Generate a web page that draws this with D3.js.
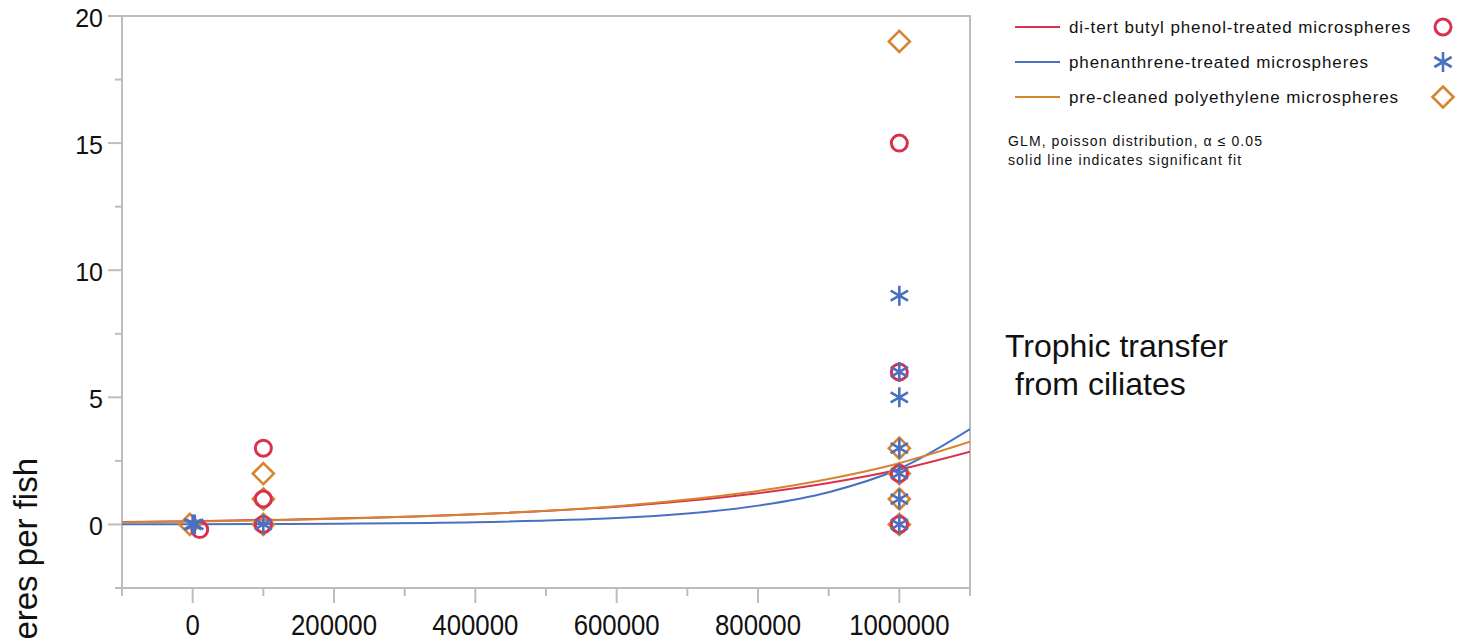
<!DOCTYPE html>
<html>
<head>
<meta charset="utf-8">
<script src="https://cdn.jsdelivr.net/npm/d3@7"></script>
<style>
  body { margin: 0; background: #fff; }
  text { font-family: "Liberation Sans", Arial, sans-serif; fill: #111; }
</style>
</head>
<body>
<svg id="chart"></svg>
<script>
let width = 1468, height = 640;

// series labels and colours
let seriesNames = ["di-tert butyl phenol-treated microspheres", "phenanthrene-treated microspheres", "pre-cleaned polyethylene microspheres"];
let seriesColors = ["#d8324f", "#4a70c1", "#d6842f"];

let redX = [10000, 100000, 100000, 100000, 1000000, 1000000, 1000000, 1000000];
let redY = [-0.2, 0, 1, 3, 0, 2, 6, 15];
let blueX = [0, 3000, 100000, 1000000, 1000000, 1000000, 1000000, 1000000, 1000000, 1000000];
let blueY = [0, 0, 0, 0, 1, 2, 3, 5, 6, 9];
let orangeX = [-4000, 100000, 100000, 100000, 1000000, 1000000, 1000000, 1000000, 1000000];
let orangeY = [0, 0, 1, 2, 0, 1, 2, 3, 19];

// fitted GLM curves, read at these x values
let fitX = [-100000, 0, 200000, 400000, 600000, 700000, 800000, 900000, 1000000, 1100000];
let redFit = [0.10, 0.13, 0.23, 0.40, 0.70, 0.93, 1.23, 1.63, 2.16, 2.86];
let blueFit = [0.006, 0.01, 0.03, 0.085, 0.25, 0.43, 0.74, 1.27, 2.19, 3.75];
let orangeFit = [0.09, 0.12, 0.22, 0.40, 0.72, 0.98, 1.32, 1.79, 2.41, 3.25];

// axis ticks
let xMajor = [0, 200000, 400000, 600000, 800000, 1000000];
let xMinor = [-100000, 100000, 300000, 500000, 700000, 900000, 1100000];
let yMajor = [0, 5, 10, 15, 20];
let yMinor = [-2.5, 2.5, 7.5, 12.5, 17.5];

let svg = d3.select("#chart").attr("width", width).attr("height", height);
let left = 122, right = 970, top_sp = 16, bottom = 588;

let xs = d3.scaleLinear().domain([-100000, 1100000]).range([left, right]);
let ys = d3.scaleLinear().domain([-2.5, 20]).range([bottom, top_sp]);

svg.append("clipPath").attr("id", "plotArea")
  .append("rect")
  .attr("x", left).attr("y", top_sp)
  .attr("width", right - left).attr("height", bottom - top_sp);

// frame
svg.append("rect")
  .attr("x", left).attr("y", top_sp)
  .attr("width", right - left).attr("height", bottom - top_sp)
  .attr("fill", "none").attr("stroke", "#bdbdbd").attr("stroke-width", 2);

// y axis
let yax = svg.append("g").attr("transform", `translate(${left},0)`);
yax.selectAll(".maj").data(yMajor).join("line")
  .attr("x1", -14).attr("x2", 0)
  .attr("y1", d => ys(d)).attr("y2", d => ys(d))
  .attr("stroke", "#bdbdbd").attr("stroke-width", 2);
yax.selectAll(".min").data(yMinor).join("line")
  .attr("x1", -7).attr("x2", 0)
  .attr("y1", d => ys(d)).attr("y2", d => ys(d))
  .attr("stroke", "#bdbdbd").attr("stroke-width", 2);
yax.selectAll("text").data(yMajor).join("text")
  .attr("x", -19).attr("y", d => ys(d) + 11)
  .attr("text-anchor", "end")
  .attr("font-size", 25)
  .text(d => d);

// x axis
let xax = svg.append("g").attr("transform", `translate(0,${bottom})`);
xax.selectAll(".maj").data(xMajor).join("line")
  .attr("x1", d => xs(d)).attr("x2", d => xs(d))
  .attr("y1", 0).attr("y2", 15)
  .attr("stroke", "#bdbdbd").attr("stroke-width", 2);
xax.selectAll(".min").data(xMinor).join("line")
  .attr("x1", d => xs(d)).attr("x2", d => xs(d))
  .attr("y1", 0).attr("y2", 8)
  .attr("stroke", "#bdbdbd").attr("stroke-width", 2);
// tick labels in the reference are tall and narrow
xax.selectAll("text").data(xMajor).join("text")
  .attr("transform", d => `translate(${xs(d)},47) scale(0.86,1)`)
  .attr("text-anchor", "middle")
  .attr("font-size", 30)
  .text(d => d);

// fitted lines
let fitLine = d3.line()
  .x(d => xs(d[0]))
  .y(d => ys(d[1]))
  .curve(d3.curveCatmullRom);
[redFit, blueFit, orangeFit].forEach((fit, i) => {
  svg.append("path")
    .attr("d", fitLine(fitX.map((x, j) => [x, fit[j]])))
    .attr("fill", "none")
    .attr("stroke", seriesColors[i])
    .attr("stroke-width", 2)
    .attr("clip-path", "url(#plotArea)");
});

// marker shapes
function circlePath(r) {
  return `M${-r},0A${r},${r} 0 1,0 ${r},0A${r},${r} 0 1,0 ${-r},0Z`;
}
function diamondPath(r) {
  return `M0,${-r}L${r},0L0,${r}L${-r},0Z`;
}
function asteriskPath(r) {
  let t = r * Math.sqrt(3) / 2, u = r / 2;
  return `M0,${-r}L0,${r}M${-t},${-u}L${t},${u}M${-t},${u}L${t},${-u}`;
}
let markerPaths = [circlePath(8), asteriskPath(10), diamondPath(10.5)];

function drawPoints(xv, yv, i) {
  svg.append("g").selectAll("path")
    .data(xv.map((x, j) => [x, yv[j]]))
    .join("path")
    .attr("transform", d => `translate(${xs(d[0])},${ys(d[1])})`)
    .attr("d", markerPaths[i])
    .attr("fill", "none")
    .attr("stroke", seriesColors[i])
    .attr("stroke-width", i == 0 ? 3 : 2.6);
}
drawPoints(orangeX, orangeY, 2);
drawPoints(redX, redY, 0);
drawPoints(blueX, blueY, 1);

// y axis title (runs off the bottom of the picture, as in the reference)
svg.append("text")
  .text("Microspheres per fish")
  .attr("transform", "translate(37,458) rotate(-90)")
  .attr("text-anchor", "end")
  .attr("font-size", 33);

// legend
let legend = svg.append("g");
seriesNames.forEach((name, i) => {
  let ly = 27 + i * 35;
  legend.append("line")
    .attr("x1", 1015).attr("x2", 1060)
    .attr("y1", ly).attr("y2", ly)
    .attr("stroke", seriesColors[i]).attr("stroke-width", 2);
  legend.append("text")
    .attr("x", 1069).attr("y", ly + 6)
    .attr("font-size", 17)
    .attr("letter-spacing", 0.9)
    .text(name);
  legend.append("path")
    .attr("transform", `translate(1443,${ly})`)
    .attr("d", markerPaths[i])
    .attr("fill", "none")
    .attr("stroke", seriesColors[i])
    .attr("stroke-width", i == 0 ? 3 : 2.6);
});
legend.append("text")
  .attr("x", 1008).attr("y", 146)
  .attr("font-size", 14).attr("letter-spacing", 1.1)
  .text("GLM, poisson distribution, α ≤ 0.05");
legend.append("text")
  .attr("x", 1008).attr("y", 165)
  .attr("font-size", 14).attr("letter-spacing", 1.1)
  .text("solid line indicates significant fit");

// side title
svg.append("text")
  .attr("x", 1005).attr("y", 357)
  .attr("font-size", 32)
  .text("Trophic transfer");
svg.append("text")
  .attr("x", 1015).attr("y", 395)
  .attr("font-size", 32)
  .text("from ciliates");
</script>
</body>
</html>
